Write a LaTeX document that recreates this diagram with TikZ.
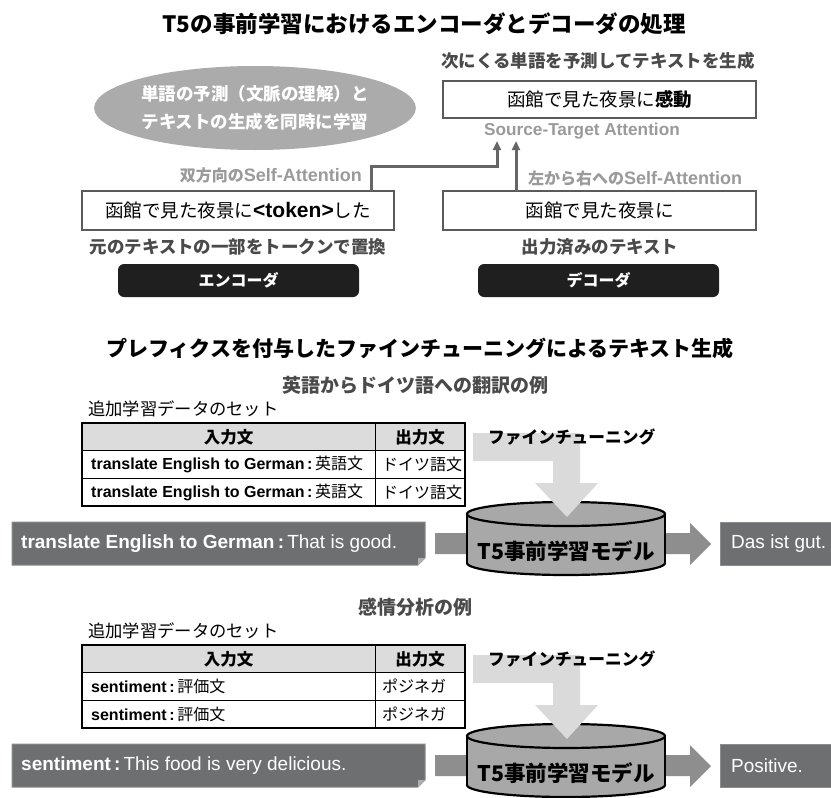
\documentclass[tikz,border=0pt]{standalone}
\usepackage{fontspec}
\setmainfont{Noto Sans CJK JP}
\newfontfamily\lat{Liberation Sans}
\usetikzlibrary{arrows.meta,shapes.geometric}
\definecolor{capgray}{HTML}{4A4A4A}
\definecolor{lblgray}{HTML}{9A9A9A}
\definecolor{boxgray}{HTML}{6E6F71}
\definecolor{boxedge}{HTML}{8C8C8C}
\definecolor{arrgray}{HTML}{8E8E8E}
\definecolor{lightarr}{HTML}{DADADA}
\definecolor{cylfill}{HTML}{A8A8A8}
\definecolor{ellfill}{HTML}{ABABAB}
\definecolor{hdrfill}{HTML}{DCDCDC}
\definecolor{boxline}{HTML}{5A5A5A}
\definecolor{connc}{HTML}{666666}
\newcommand{\myfs}[1]{\fontsize{#1}{#1}\selectfont}
\begin{document}
\begin{tikzpicture}[x=1pt,y=-1pt,
  ttl/.style={font=\myfs{22.5}\bfseries, text=black, inner sep=0},
  capt/.style={font=\myfs{17.5}\bfseries, text=capgray, inner sep=0},
  lbl/.style={font=\myfs{16}\bfseries, text=lblgray, inner sep=0},
  tbox/.style={draw=boxline, line width=1.6pt, fill=white, inner sep=0, minimum height=38pt, font=\myfs{18.5}},
  blk/.style={fill=black!88, rounded corners=6pt, text=white, font=\myfs{16}\bfseries, minimum width=241pt, minimum height=33pt, inner sep=0},
  conn/.style={draw=connc, line width=3pt, -{Triangle[width=8pt,length=9pt]}},
  plain/.style={font=\myfs{17.3}, text=black, inner sep=0},
  head/.style={font=\myfs{19}\bfseries, text=capgray, inner sep=0},
  cell/.style={font=\myfs{16}, text=black, inner sep=0},
  ft/.style={font=\myfs{16.7}\bfseries, text=black, inner sep=0},
  gbox/.style={fill=boxgray, draw=boxedge, line width=1pt},
  gtxt/.style={font=\myfs{19}, text=white, inner sep=0},
  cyltxt/.style={font=\myfs{21.5}\bfseries, text=black, inner sep=0}
]
\clip (0,0) rectangle (831,798);
\useasboundingbox (0,0) rectangle (831,798);
\fill[white] (0,0) rectangle (831,798);

% ---------- Section 1 ----------
\node[ttl] (t1) at (424,24) {T5の事前学習におけるエンコーダとデコーダの処理};

\node[capt] (gencap) at (598,61) {次にくる単語を予測してテキストを生成};
\node[tbox, minimum width=313pt, minimum height=37pt] (outbox) at (599.5,99.5) {函館で見た夜景に\textbf{感動}};
\node[font=\myfs{17.2}\bfseries\lat, text=lblgray, inner sep=0] (stlbl) at (582,131) {Source-Target Attention};

\node[ellipse, fill=ellfill, minimum width=286pt, minimum height=84pt, inner sep=0,
      text=white, font=\fontsize{17.5}{28}\selectfont\bfseries, align=center] (ell) at (255,108)
      {単語の予測（文脈の理解）と\\テキストの生成を同時に学習};

\node[lbl, anchor=east] (bilbl) at (362,175) {双方向の{\lat\myfs{18}Self-Attention}};
\node[lbl, anchor=west] (lrlbl) at (528,178) {左から右への{\lat\myfs{18}Self-Attention}};

\node[tbox, minimum width=312pt, minimum height=39pt] (enc) at (238,210.5) {函館で見た夜景に{\lat\bfseries\myfs{21}<token>}した};
\node[tbox, minimum width=313pt, minimum height=39pt] (dec) at (599.5,210.5) {函館で見た夜景に};

\coordinate (encout) at (371,191);
\coordinate (decout) at (516,191);
\coordinate (stL) at (497,141);
\coordinate (stR) at (516,141);
\draw[conn] (encout) -- (371,166) -| (stL);
\draw[conn] (decout) -- (stR);

\node[capt] (enccap) at (238,247) {元のテキストの一部をトークンで置換};
\node[capt] (deccap) at (600,247) {出力済みのテキスト};
\node[blk] (encb) at (238.5,280.5) {エンコーダ};
\node[blk] (decb) at (598.5,280.5) {デコーダ};

% ---------- Section 2 ----------
\node[ttl, font=\myfs{21}\bfseries] (t2) at (420,348) {プレフィクスを付与したファインチューニングによるテキスト生成};

\foreach \dy/\hd/\pre/\jp/\outw/\inrest/\outtxt/\nm in {
  0/英語からドイツ語への翻訳の例/translate English to German/英語文/ドイツ語文/That is good./Das ist gut./a,
  222/感情分析の例/sentiment/評価文/ポジネガ/This food is very delicious./Positive./b}{
  \begin{scope}[yshift=-\dy pt]
  \node[head] (hd\nm) at (415,385) {\hd};
  \node[plain, anchor=west] (set\nm) at (88,409) {追加学習データのセット};
  % table
  \fill[hdrfill] (82,423) rectangle (465,450);
  \draw[line width=1pt] (82,450) -- (465,450) (82,478) -- (465,478) (375,423) -- (375,506);
  \draw[line width=1.8pt] (82,423) rectangle (465,506);
  \node[cell, font=\myfs{16.5}\bfseries] (ci\nm) at (228.5,437) {入力文};
  \node[cell, font=\myfs{16.5}\bfseries] (co\nm) at (420,437) {出力文};
  \node[cell, anchor=west] (r1\nm) at (91,464.5) {{\lat\bfseries \pre\,:}\,\jp};
  \node[cell, anchor=west] (r1o\nm) at (382,464.5) {\outw};
  \node[cell, anchor=west] (r2\nm) at (91,492.5) {{\lat\bfseries \pre\,:}\,\jp};
  \node[cell, anchor=west] (r2o\nm) at (382,492.5) {\outw};
  % input box
  \path[gbox] (12,522) -- (425,522) -- (425,558) -- (418,565) -- (12,565) -- cycle;
  \fill[boxedge!70!white] (425,558) -- (418,558) -- (418,565) -- cycle;
  \node[gtxt, anchor=west] (in\nm) at (21,543.5) {{\lat\bfseries \pre\,:}\,{\lat\inrest}};
  % gray arrow
  \fill[arrgray] (435,533) -- (690,533) -- (690,523) -- (711,544) -- (690,565) -- (690,554) -- (435,554) -- cycle;
  % cylinder
  \filldraw[fill=cylfill, draw=black, line width=2.2pt] (566,563) ellipse [x radius=99pt, y radius=12pt];
  \fill[cylfill] (467,514) rectangle (665,563);
  \draw[line width=2.2pt] (467,514) -- (467,563) (665,514) -- (665,563);
  \filldraw[fill=cylfill, draw=black, line width=2.2pt] (566,514) ellipse [x radius=99pt, y radius=12pt];
  \node[cyltxt] (cyl\nm) at (566,551) {T5事前学習モデル};
  % light arrow
  \fill[lightarr] (473,433) -- (580,433) -- (580,483) -- (598,483) -- (567,517) -- (535,483) -- (553,483) -- (553,461) -- (473,461) -- cycle;
  \node[ft, anchor=west] (ft\nm) at (488,437) {ファインチューニング};
  % output box
  \path[gbox] (720,522) -- (840,522) -- (840,565) -- (720,565) -- cycle;
  \node[gtxt, anchor=west] (out\nm) at (731,543.5) {\lat\outtxt};
  \end{scope}
}
\end{tikzpicture}
\end{document}
